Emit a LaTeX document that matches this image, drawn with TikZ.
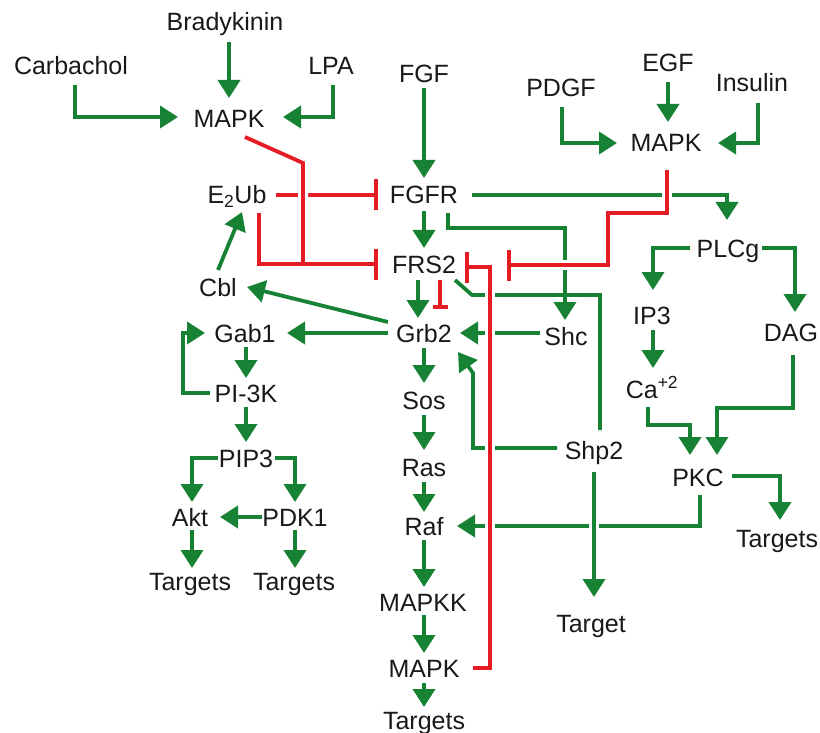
\documentclass[tikz,border=0pt]{standalone}
\usepackage{fontspec}
\setmainfont{Liberation Sans}
\usetikzlibrary{arrows.meta,calc}
\definecolor{pgreen}{RGB}{24,130,52}
\definecolor{pred}{RGB}{230,28,36}
\definecolor{ptext}{RGB}{25,25,25}
\begin{document}
\begin{tikzpicture}[x=1pt,y=-1pt,
  lbl/.style={inner sep=0pt, text height=18pt, text depth=0pt,
    font=\fontsize{25}{30}\selectfont, text=ptext},
  act/.style={draw=pgreen, line width=3.8pt, -{Triangle[width=22pt,length=18pt]}},
  gline/.style={draw=pgreen, line width=3.8pt},
  inh/.style={draw=pred, line width=3.8pt, -{Bar[width=31pt]}},
  rline/.style={draw=pred, line width=3.8pt},
  inhsmall/.style={draw=pred, line width=3.6pt, -{Bar[width=15pt]}},
  gap/.style={preaction={draw=white, line width=10pt, -}},
]
\useasboundingbox (0,0) rectangle (820,733);

% nodes
\node[lbl] (brad) at (225,22) {Bradykinin};
\node[lbl] (carb) at (71,66) {Carbachol};
\node[lbl] (lpa) at (331,66) {LPA};
\node[lbl] (mapka) at (229,119) {MAPK};
\node[lbl] (e2ub) at (237,195) {E\textsubscript{2}Ub};
\node[lbl] (fgf) at (424,74) {FGF};
\node[lbl] (fgfr) at (424,195) {FGFR};
\node[lbl] (frs2) at (424,264) {FRS2};
\node[lbl] (cbl) at (218,287) {Cbl};
\node[lbl] (grb2) at (424,333) {Grb2};
\node[lbl] (gab1) at (245,333) {Gab1};
\node[lbl] (pi3k) at (246,393) {PI-3K};
\node[lbl] (pip3) at (246,458) {PIP3};
\node[lbl] (akt) at (190,517) {Akt};
\node[lbl] (pdk1) at (295,517) {PDK1};
\node[lbl] (tgta) at (190,581) {Targets};
\node[lbl] (tgtb) at (294,581) {Targets};
\node[lbl] (sos) at (424,400) {Sos};
\node[lbl] (ras) at (424,467) {Ras};
\node[lbl] (raf) at (424,526) {Raf};
\node[lbl] (mapkk) at (423,602) {MAPKK};
\node[lbl] (mapkb) at (424,668) {MAPK};
\node[lbl] (tgtc) at (424,720) {Targets};
\node[lbl] (shc) at (566,336) {Shc};
\node[lbl] (shp2) at (594,450) {Shp2};
\node[lbl] (tgtd) at (591,623) {Target};
\node[lbl] (plcg) at (728,248) {PLCg};
\node[lbl] (ip3) at (652,315) {IP3};
\node[lbl] (ca) at (652,389) {Ca\textsuperscript{+2}};
\node[lbl] (dag) at (791,332) {DAG};
\node[lbl] (pkc) at (698,477) {PKC};
\node[lbl] (tgte) at (777,538) {Targets};
\node[lbl] (pdgf) at (561,88) {PDGF};
\node[lbl] (egf) at (668,63) {EGF};
\node[lbl] (ins) at (752,83) {Insulin};
\node[lbl] (mapkc) at (666,143) {MAPK};

% green activations
\draw[act] ($(brad)+(4,20)$) -- ($(mapka)+(0,-21)$);
\draw[act] ($(carb)+(4,19)$) |- ($(mapka)+(-51,-2)$);
\draw[act] ($(lpa)+(2,19)$) |- ($(mapka)+(54,-2)$);

\draw[act] ($(pdgf)+(1,19)$) |- ($(mapkc)+(-49,0)$);
\draw[act] ($(egf)+(0,19)$) -- ($(mapkc)+(2,-21)$);
\draw[act] ($(ins)+(6,20)$) |- ($(mapkc)+(52,0)$);

\draw[act] ($(fgf)+(0,14)$) -- ($(fgfr)+(0,-17)$);
\draw[act] ($(fgfr)+(0,16)$) -- ($(frs2)+(0,-16)$);
\draw[act] ($(frs2)+(-6,16)$) -- ($(grb2)+(-6,-15)$);
\draw[act] ($(grb2)+(0,15)$) -- ($(sos)+(0,-17)$);
\draw[act] ($(sos)+(0,15)$) -- ($(ras)+(0,-17)$);
\draw[act] ($(ras)+(0,15)$) -- ($(raf)+(0,-14)$);
\draw[act] ($(raf)+(0,14)$) -- ($(mapkk)+(1,-15)$);
\draw[act] ($(mapkk)+(1,13)$) -- ($(mapkb)+(0,-15)$);
\draw[act] ($(mapkb)+(0,15)$) -- ($(tgtc)+(0,-13)$);

\draw[act] ($(fgfr)+(48,0)$) -| ($(plcg)+(-1,-28)$);
\draw[act] ($(fgfr)+(24,18)$) |- ($(shc)+(-1,-108)$) -- ($(shc)+(-1,-16)$);
\draw[gline] ($(frs2)+(31,16)$) -- ($(frs2)+(48,31)$) -| ($(shp2)+(6,-20)$);

\draw[act] ($(shc)+(-26,-3)$) -- ($(grb2)+(36,0)$);
\draw[act] ($(shp2)+(-37,-2)$) -| ($(grb2)+(49,40)$) -- ($(grb2)+(34,19)$);

\draw[act] ($(grb2)+(-36,-11)$) -- ($(cbl)+(29,0)$);
\draw[act] ($(grb2)+(-36,0)$) -- ($(gab1)+(42,0)$);
\draw[act] ($(cbl)+(0,-17)$) -- ($(e2ub)+(5,17)$);

\draw[act] ($(pi3k)+(-36,0)$) -| ($(gab1)+(-62,0)$) -- ($(gab1)+(-40,0)$);
\draw[act] ($(gab1)+(1,14)$) -- ($(pi3k)+(0,-15)$);
\draw[act] ($(pi3k)+(0,14)$) -- ($(pip3)+(0,-16)$);
\draw[act] ($(pip3)+(-28,0)$) -| ($(akt)+(2,-15)$);
\draw[act] ($(pip3)+(29,0)$) -| ($(pdk1)+(0,-15)$);
\draw[act] ($(pdk1)+(-33,0)$) -- ($(akt)+(30,0)$);
\draw[act] ($(akt)+(2,13)$) -- ($(tgta)+(2,-13)$);
\draw[act] ($(pdk1)+(0,13)$) -- ($(tgtb)+(1,-13)$);

\draw[act] ($(plcg)+(-38,0)$) -| ($(ip3)+(1,-25)$);
\draw[act] ($(plcg)+(34,0)$) -| ($(dag)+(4,-20)$);
\draw[act] ($(ip3)+(1,15)$) -- ($(ca)+(1,-21)$);
\draw[act] ($(ca)+(-4,18)$) |- ($(pkc)+(-8,-52)$) -- ($(pkc)+(-8,-22)$);
\draw[act] ($(dag)+(2,23)$) |- ($(pkc)+(19,-69)$) -- ($(pkc)+(19,-22)$);
\draw[act] ($(pkc)+(2,18)$) |- ($(raf)+(33,0)$);
\draw[act] ($(pkc)+(34,-1)$) -| ($(tgte)+(3,-18)$);
\draw[act,gap] ($(shp2)+(0,22)$) -- ($(tgtd)+(3,-26)$);

% red inhibitions
\draw[inhsmall] ($(frs2)+(16,16)$) -- ($(grb2)+(16,-24)$);
\draw[inh] ($(e2ub)+(39,0)$) -- ($(fgfr)+(-46,0)$);
\draw[rline,gap] ($(mapka)+(16,18)$) -- ($(mapka)+(74,44)$) -- ($(mapka)+(74,145)$);
\draw[inh] ($(e2ub)+(22,18)$) |- ($(frs2)+(-46,0)$);
\draw[inh,gap] ($(mapkc)+(1,27)$) |- ($(mapkc)+(-58,70)$) |- ($(frs2)+(83,1)$);
\draw[inh,gap] ($(mapkb)+(49,0)$) -| ($(frs2)+(66,3)$) -- ($(frs2)+(41,3)$);
\end{tikzpicture}
\end{document}
